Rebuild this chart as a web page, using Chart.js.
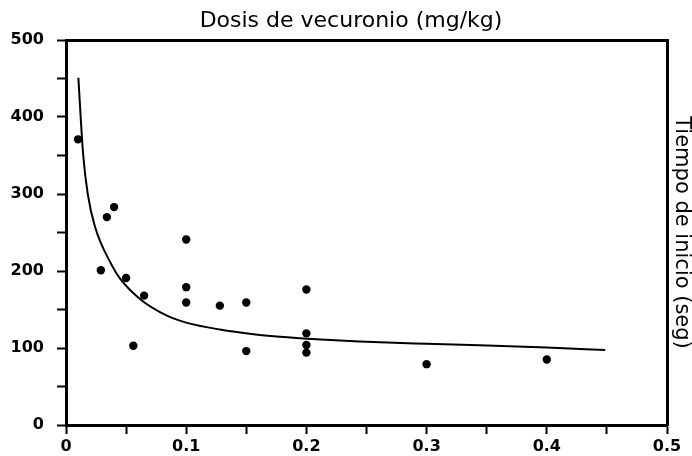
<!DOCTYPE html>
<html>
<head>
<meta charset="utf-8">
<script src="https://cdn.jsdelivr.net/npm/chart.js@4"></script>
<style>
  html, body { margin: 0; padding: 0; background: #fff; }
  #wrap { width: 692px; height: 456px; }
</style>
</head>
<body>
<div id="wrap"><canvas id="grafico" width="692" height="456"></canvas></div>
<script>
// puntos observados
const dosis = [0.01, 0.029, 0.034, 0.04, 0.05, 0.056, 0.065, 0.1, 0.1, 0.1, 0.128, 0.15, 0.15, 0.2, 0.2, 0.2, 0.2, 0.3, 0.4];
const tiempo = [371, 201, 270, 283, 191, 103, 168, 241, 179, 159, 155, 159, 96, 176, 119, 104, 94, 79, 85];

// curva ajustada
const curvaX = [0.0103, 0.0122, 0.0144, 0.018, 0.024, 0.0383, 0.045, 0.062, 0.084, 0.100, 0.128, 0.156, 0.184, 0.212, 0.244, 0.300, 0.344, 0.400, 0.4486];
const curvaY = [451, 400, 349, 301, 258, 207, 190, 163, 142, 133, 124, 118, 114, 111, 108.5, 105.5, 103.5, 100.5, 97.5];

const xTickLabels = ["0", "0.1", "0.2", "0.3", "0.4", "0.5"];
const yTickLabels = ["0", "100", "200", "300", "400", "500"];

const tituloX = "Dosis de vecuronio (mg/kg)";
const tituloY = "Tiempo de inicio (seg)";

const fuenteTicks = { family: "DejaVu Sans", size: 16, weight: "bold" };

function etiqueta(valor, paso, lista) {
  const i = Math.round(valor / paso);
  if (Math.abs(valor - i * paso) > 1e-6) return "";
  return lista[i] !== undefined ? lista[i] : "";
}

const ctx = document.getElementById("grafico").getContext("2d");

window.grafico = new Chart(ctx, {
  type: "scatter",
  data: {
    datasets: [
      {
        label: "curva",
        data: curvaX.map((x, i) => ({ x: x, y: curvaY[i] })),
        showLine: true,
        borderColor: "#000",
        borderWidth: 2,
        pointRadius: 0,
        cubicInterpolationMode: "monotone",
        fill: false
      },
      {
        label: "pacientes",
        data: dosis.map((x, i) => ({ x: x, y: tiempo[i] })),
        backgroundColor: "#000",
        borderWidth: 0,
        pointRadius: 4.2
      }
    ]
  },
  options: {
    responsive: false,
    animation: false,
    layout: { padding: { left: 10, right: 0, top: 0, bottom: 0 } },
    plugins: {
      legend: { display: false },
      tooltip: { enabled: false },
      title: {
        display: true,
        text: tituloX,
        color: "#000",
        font: { family: "DejaVu Sans", size: 22, weight: "normal" },
        padding: { top: 8, bottom: 5.6 }
      }
    },
    scales: {
      x: {
        type: "linear",
        position: "bottom",
        min: 0,
        max: 0.5,
        afterFit: (s) => { s.height = 31; },
        border: { color: "#000", width: 3 },
        grid: { drawOnChartArea: false, drawTicks: true, tickLength: 9, tickColor: "#000", tickWidth: 2 },
        ticks: {
          stepSize: 0.05,
          autoSkip: false,
          maxRotation: 0,
          padding: 3,
          color: "#000",
          font: fuenteTicks,
          callback: (v) => etiqueta(v, 0.1, xTickLabels)
        }
      },
      y: {
        type: "linear",
        position: "left",
        min: 0,
        max: 500,
        afterFit: (s) => { s.width = 56; },
        border: { color: "#000", width: 3 },
        grid: { drawOnChartArea: false, drawTicks: true, tickLength: 9, tickColor: "#000", tickWidth: 2 },
        ticks: {
          stepSize: 50,
          autoSkip: false,
          padding: 13,
          color: "#000",
          font: fuenteTicks,
          callback: (v) => etiqueta(v, 100, yTickLabels)
        }
      },
      x2: {
        type: "linear",
        position: "top",
        min: 0,
        max: 1,
        afterFit: (s) => { s.height = 0; },
        border: { color: "#000", width: 3 },
        grid: { display: false },
        ticks: { display: false }
      },
      y2: {
        type: "linear",
        position: "right",
        min: 0,
        max: 1,
        afterFit: (s) => { s.width = 25; },
        border: { color: "#000", width: 3 },
        grid: { display: false },
        ticks: { display: false },
        title: {
          display: true,
          text: tituloY,
          color: "#000",
          padding: 0,
          font: { family: "DejaVu Sans", size: 21, weight: "normal", lineHeight: 1.05 }
        }
      }
    }
  }
});
</script>
</body>
</html>
